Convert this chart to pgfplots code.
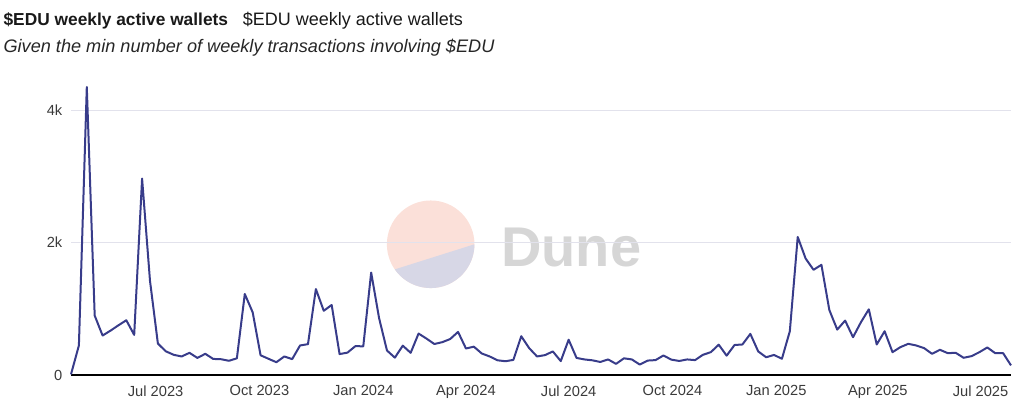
\documentclass[border=0pt]{standalone}
\usepackage{fontspec}
\setmainfont{Liberation Sans}
\usepackage{pgfplots}
\pgfplotsset{compat=1.18}
\definecolor{lineC}{HTML}{383C8A}
\definecolor{gridC}{HTML}{E2E2EC}
\definecolor{tickC}{HTML}{3A3A3A}
\definecolor{wmA}{HTML}{FBE0D9}
\definecolor{wmB}{HTML}{D7D7E6}
\definecolor{wmT}{HTML}{D6D6D6}
\begin{document}
\begin{tikzpicture}[x=1pt,y=1pt]
% watermark
\fill[wmA] (323,122.8) circle (32.85);
\fill[wmB] ([shift={(215:32.85)}]323,122.8) arc (215:360:32.85) -- cycle;
\node[anchor=base west, inner sep=0, text=wmT, font=\fontsize{42}{42}\selectfont\bfseries] at (375.75,106) {Dune};
% titles
\node[anchor=base west, inner sep=0, text=black!90, font=\fontsize{13}{15}\selectfont] at (2.5,286.5) {\textbf{\$EDU weekly active wallets}\hspace{11pt}{\fontsize{13.5}{15}\selectfont\$EDU weekly active wallets}};
\node[anchor=base west, inner sep=0, text=black!85, font=\fontsize{13.6}{15}\selectfont\itshape] at (2.5,266.25) {Given the min number of weekly transactions involving \$EDU};
\begin{axis}[
  at={(53.25pt,24.75pt)}, anchor=south west,
  scale only axis, width=705pt, height=218.5pt,
  xmin=0, xmax=119, ymin=0, ymax=4400,
  axis lines=left,
  axis line style={-},
  y axis line style={draw=none},
  x axis line style={black, line width=1.2pt},
  major tick length=0pt,
  ytick={0,2000,4000}, yticklabels={0,2k,4k},
  xtick={10.714,23.857,37,50,63,76.143,89.286,102.143,115.143},
  xticklabels={Jul 2023,Oct 2023,Jan 2024,Apr 2024,Jul 2024,Oct 2024,Jan 2025,Apr 2025,Jul 2025},
  ymajorgrids, grid style={color=gridC, line width=0.75pt},
  tick label style={font=\fontsize{11}{13}\selectfont, text=tickC},
  yticklabel style={xshift=-3pt},
  xticklabel style={yshift=-4.5pt},
  clip=false,
]
\addplot[lineC, line width=1.5pt, line join=round, mark=none] table {
x y
0 10
1 446
2 4350
3 897
4 596
5 670
6 750
7 827
8 606
9 2967
10 1423
11 475
12 358
13 305
14 280
15 335
16 258
17 320
18 243
19 238
20 215
21 252
22 1223
23 947
24 298
25 245
26 193
27 280
28 240
29 446
30 466
31 1298
32 970
33 1058
34 316
35 338
36 436
37 433
38 1548
39 860
40 370
41 262
42 443
43 335
44 626
45 550
46 468
47 496
48 543
49 651
50 400
51 428
52 325
53 280
54 222
55 208
56 228
57 586
58 406
59 280
60 300
61 356
62 210
63 533
64 258
65 235
66 222
67 197
68 235
69 168
70 252
71 235
72 158
73 218
74 225
75 295
76 232
77 212
78 235
79 225
80 305
81 345
82 458
83 292
84 453
85 461
86 621
87 356
88 268
89 303
90 245
91 661
92 2085
93 1759
94 1589
95 1664
96 982
97 686
98 822
99 571
100 797
101 992
102 461
103 661
104 345
105 421
106 471
107 446
108 406
109 320
110 381
111 330
112 335
113 260
114 285
115 345
116 416
117 330
118 330
119 145
};
\end{axis}
\pgfresetboundingbox
\path[use as bounding box] (0,0) rectangle (768,306);
\end{tikzpicture}
\end{document}
